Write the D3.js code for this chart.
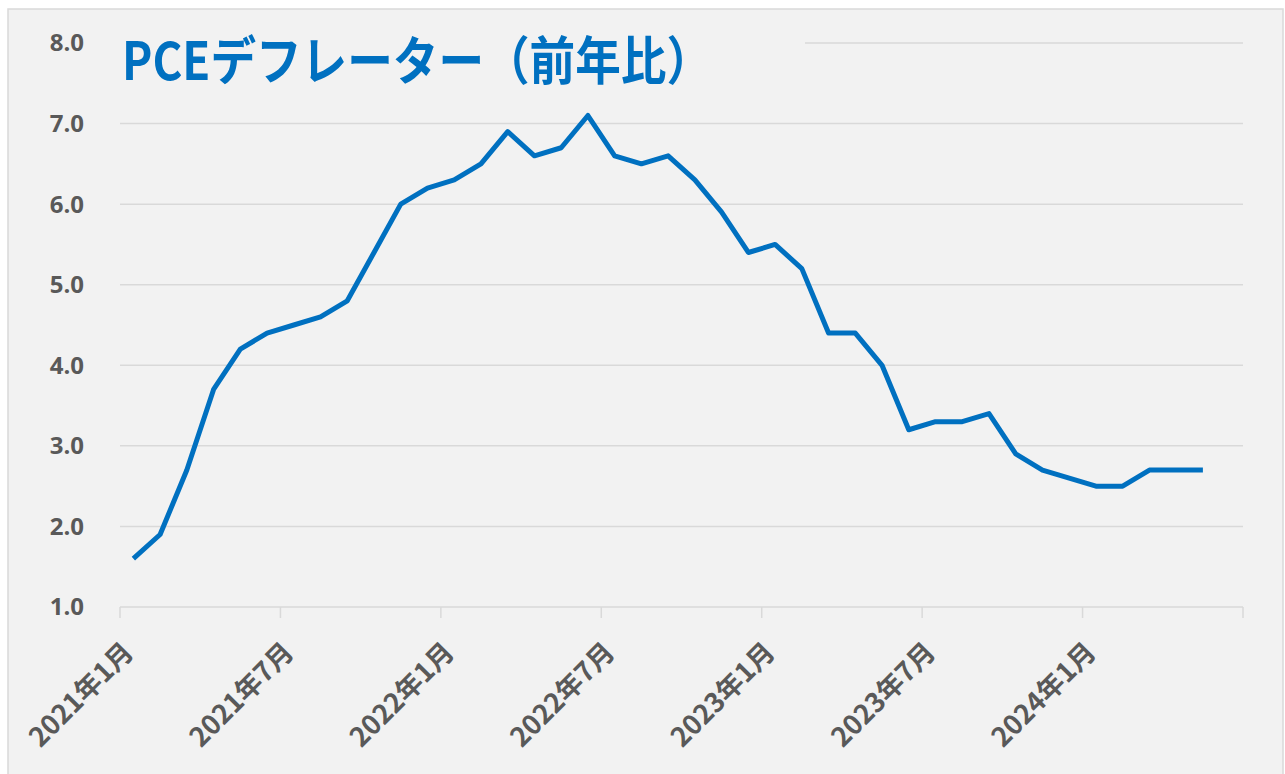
<!DOCTYPE html>
<html>
<head>
<meta charset="utf-8">
<script src="https://cdn.jsdelivr.net/npm/d3@7"></script>
<style>
  body { margin: 0; background: #fff; }
  .ylab { font-family: "Open Sans", "Noto Sans", sans-serif; font-weight: 700; font-size: 24px; fill: #595959; }
  .xlab { font-family: "Noto Sans CJK JP", sans-serif; font-weight: 700; font-size: 27px; fill: #595959; }
  .title { font-family: "Noto Sans CJK JP", sans-serif; font-weight: 700; font-size: 52px; fill: #0070c0; }
</style>
</head>
<body>
<svg id="chart" width="1285" height="774"></svg>
<script>
// PCE deflator, YoY %, monthly from 2021-01
var values = [1.6, 1.9, 2.7, 3.7, 4.2, 4.4, 4.5, 4.6, 4.8, 5.4, 6.0, 6.2,
              6.3, 6.5, 6.9, 6.6, 6.7, 7.1, 6.6, 6.5, 6.6, 6.3, 5.9, 5.4,
              5.5, 5.2, 4.4, 4.4, 4.0, 3.2, 3.3, 3.3, 3.4, 2.9, 2.7, 2.6,
              2.5, 2.5, 2.7, 2.7, 2.7];
var months = d3.timeMonth.range(new Date(2021, 0, 1), new Date(2024, 6, 1)); // axis runs to 2024-06
var tickLabels = ["2021年1月", "2021年7月", "2022年1月", "2022年7月", "2023年1月", "2023年7月", "2024年1月"];
var yTicks = [1, 2, 3, 4, 5, 6, 7, 8];
var titleText = "PCEデフレーター（前年比）";

var svg = d3.select("#chart");
var plotL = 120, plotR = 1243, plotT = 43, plotB = 607;

svg.append("rect")
  .attr("x", 8).attr("y", 9)
  .attr("width", 1275).attr("height", 775)
  .attr("fill", "#f2f2f2")
  .attr("stroke", "#d9d9d9").attr("stroke-width", 1.5);

var x = d3.scaleBand().domain(months).range([plotL, plotR]).paddingInner(0).paddingOuter(0);
var y = d3.scaleLinear().domain([1, 8]).range([plotB, plotT]);

// gridlines
svg.append("g").selectAll("line")
  .data(yTicks.slice(1))
  .enter().append("line")
  .attr("x1", plotL).attr("x2", plotR)
  .attr("y1", function(d) { return y(d); })
  .attr("y2", function(d) { return y(d); })
  .attr("stroke", "#d9d9d9").attr("stroke-width", 1.5);

// x axis line + ticks every 6 months
svg.append("line")
  .attr("x1", plotL).attr("x2", plotR)
  .attr("y1", plotB).attr("y2", plotB)
  .attr("stroke", "#d9d9d9").attr("stroke-width", 1.5);

var tickMonths = months.filter(function(d, i) { return i % 6 == 0; });
var tickX = tickMonths.map(function(d) { return x(d); }).concat([plotR]);
svg.append("g").selectAll("line")
  .data(tickX)
  .enter().append("line")
  .attr("x1", function(d) { return d; }).attr("x2", function(d) { return d; })
  .attr("y1", plotB).attr("y2", plotB + 11)
  .attr("stroke", "#d9d9d9").attr("stroke-width", 1.5);

svg.append("g").selectAll("text")
  .data(tickMonths)
  .enter().append("text")
  .attr("class", "xlab")
  .attr("text-anchor", "end")
  .attr("transform", function(d) { return "translate(" + (x(d) + 15) + "," + (plotB + 47) + ") rotate(-45)"; })
  .text(function(d, i) { return tickLabels[i]; });

svg.append("g").selectAll("text")
  .data(yTicks)
  .enter().append("text")
  .attr("class", "ylab")
  .attr("text-anchor", "end")
  .attr("x", 84)
  .attr("y", function(d) { return y(d); })
  .attr("dy", "0.35em")
  .text(function(d) { return d3.format(".1f")(d); });

// title box covers top gridline
svg.append("rect")
  .attr("x", plotL).attr("y", 20)
  .attr("width", 685).attr("height", 75)
  .attr("fill", "#f2f2f2");

svg.append("text")
  .attr("class", "title")
  .attr("x", 122).attr("y", 80)
  .attr("textLength", 590).attr("lengthAdjust", "spacingAndGlyphs")
  .text(titleText);

var line = d3.line()
  .x(function(d, i) { return x(months[i]) + x.bandwidth() / 2; })
  .y(function(d) { return y(d); });

svg.append("path")
  .datum(values)
  .attr("fill", "none")
  .attr("stroke", "#0070c0")
  .attr("stroke-width", 5)
  .attr("stroke-linejoin", "round")
  .attr("d", line);
</script>
</body>
</html>
